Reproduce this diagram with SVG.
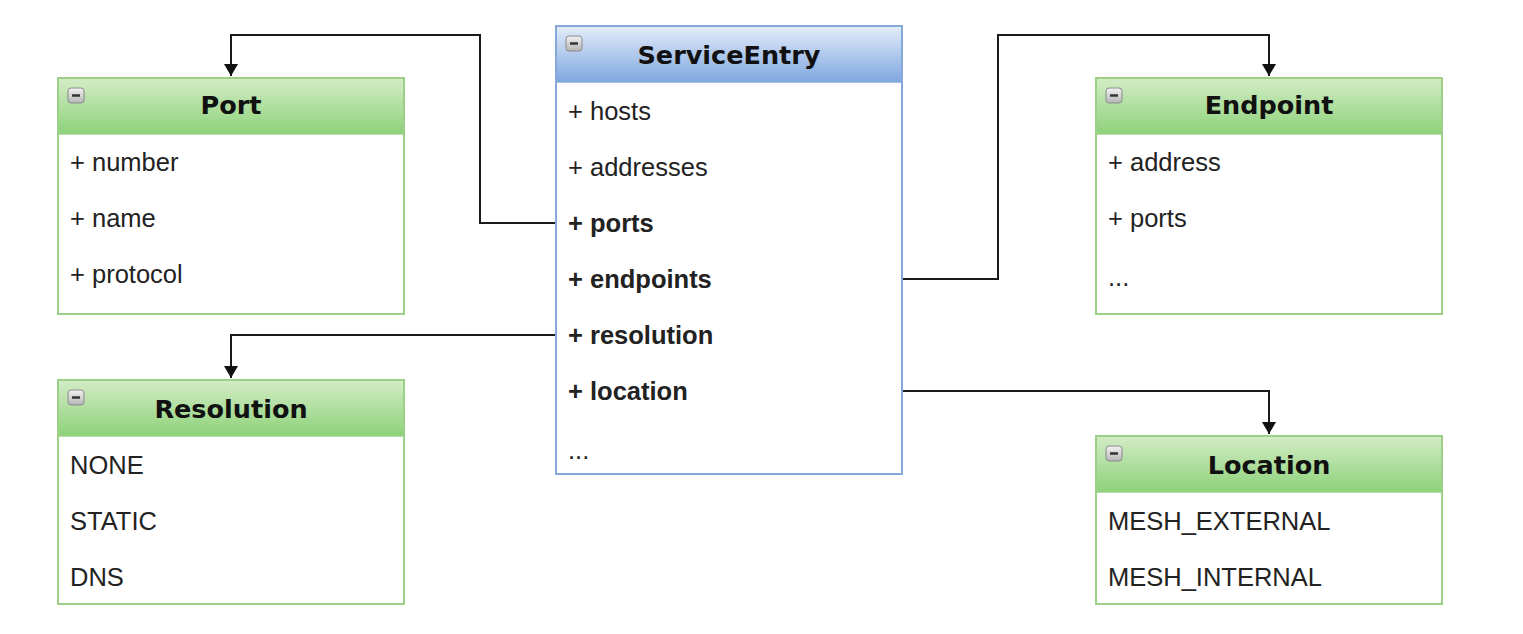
<svg xmlns="http://www.w3.org/2000/svg" width="1523" height="634" viewBox="0 0 1523 634">
<style>
.title{font-family:"DejaVu Sans",Verdana,sans-serif;font-weight:bold;font-size:25.5px;fill:#111;text-anchor:middle}
.item{font-family:"Liberation Sans",Arial,sans-serif;font-size:25.5px;fill:#222}
.b{font-weight:bold}
.body{fill:#fff}
.gbox{fill:none;stroke:#9ccf88;stroke-width:2}
.bbox{fill:none;stroke:#86a8d8;stroke-width:2}
.conn{fill:none;stroke:#1a1a1a;stroke-width:2}
.icon{fill:url(#ig);stroke:#8a8a8a;stroke-width:1}
.dash{stroke:#333;stroke-width:2.5}
</style>
<defs>
<linearGradient id="gg" x1="0" y1="0" x2="0" y2="1"><stop offset="0" stop-color="#d3ecc6"/><stop offset="1" stop-color="#8ed27a"/></linearGradient>
<linearGradient id="bg" x1="0" y1="0" x2="0" y2="1"><stop offset="0" stop-color="#e4edf9"/><stop offset="1" stop-color="#7fa7e1"/></linearGradient>
<linearGradient id="ig" x1="0" y1="0" x2="0" y2="1"><stop offset="0" stop-color="#f2f2f2"/><stop offset="1" stop-color="#b5b5b5"/></linearGradient>
<marker id="arr" viewBox="0 0 12 14" refX="12" refY="7" markerWidth="12" markerHeight="14" markerUnits="userSpaceOnUse" orient="auto"><path d="M0,0 L12,7 L0,14 z" fill="#111"/></marker>
</defs>
<rect width="1523" height="634" fill="#fff"/>
<g id="connectors">
<path class="conn" d="M556,223 H480 V35 H231 V76" marker-end="url(#arr)"/>
<path class="conn" d="M902,279 H998 V35 H1269 V76" marker-end="url(#arr)"/>
<path class="conn" d="M556,335 H231 V378" marker-end="url(#arr)"/>
<path class="conn" d="M902,391 H1269 V434" marker-end="url(#arr)"/>
</g>
<g id="ServiceEntry">
<rect x="556" y="26" width="346" height="448" class="body"/>
<rect x="556" y="26" width="346" height="56" fill="url(#bg)"/>
<rect x="556" y="26" width="346" height="448" class="bbox"/>
<line x1="556" y1="82" x2="902" y2="82" stroke="#86a8d8" stroke-width="1.5"/>
<rect x="566" y="36" width="16" height="15" rx="3" class="icon"/><line x1="570" y1="43.5" x2="578" y2="43.5" class="dash"/>
<text class="title" x="729" y="64">ServiceEntry</text>
<text class="item" x="568" y="120">+ hosts</text>
<text class="item" x="568" y="176">+ addresses</text>
<text class="item b" x="568" y="232">+ ports</text>
<text class="item b" x="568" y="288">+ endpoints</text>
<text class="item b" x="568" y="344">+ resolution</text>
<text class="item b" x="568" y="400">+ location</text>
<text class="item" x="568" y="459">...</text>
</g>
<g id="Port">
<rect x="58" y="78" width="346" height="236" class="body"/>
<rect x="58" y="78" width="346" height="56" fill="url(#gg)"/>
<rect x="58" y="78" width="346" height="236" class="gbox"/>
<line x1="58" y1="134" x2="404" y2="134" stroke="#9ccf88" stroke-width="1.5"/>
<rect x="68" y="88" width="16" height="15" rx="3" class="icon"/><line x1="72" y1="95.5" x2="80" y2="95.5" class="dash"/>
<text class="title" x="231" y="114">Port</text>
<text class="item" x="70" y="171">+ number</text>
<text class="item" x="70" y="227">+ name</text>
<text class="item" x="70" y="283">+ protocol</text>
</g>
<g id="Endpoint">
<rect x="1096" y="78" width="346" height="236" class="body"/>
<rect x="1096" y="78" width="346" height="56" fill="url(#gg)"/>
<rect x="1096" y="78" width="346" height="236" class="gbox"/>
<line x1="1096" y1="134" x2="1442" y2="134" stroke="#9ccf88" stroke-width="1.5"/>
<rect x="1106" y="88" width="16" height="15" rx="3" class="icon"/><line x1="1110" y1="95.5" x2="1118" y2="95.5" class="dash"/>
<text class="title" x="1269" y="114">Endpoint</text>
<text class="item" x="1108" y="171">+ address</text>
<text class="item" x="1108" y="227">+ ports</text>
<text class="item" x="1108" y="286">...</text>
</g>
<g id="Resolution">
<rect x="58" y="380" width="346" height="224" class="body"/>
<rect x="58" y="380" width="346" height="56" fill="url(#gg)"/>
<rect x="58" y="380" width="346" height="224" class="gbox"/>
<line x1="58" y1="436" x2="404" y2="436" stroke="#9ccf88" stroke-width="1.5"/>
<rect x="68" y="390" width="16" height="15" rx="3" class="icon"/><line x1="72" y1="397.5" x2="80" y2="397.5" class="dash"/>
<text class="title" x="231" y="418">Resolution</text>
<text class="item" x="70" y="474">NONE</text>
<text class="item" x="70" y="530">STATIC</text>
<text class="item" x="70" y="586">DNS</text>
</g>
<g id="Location">
<rect x="1096" y="436" width="346" height="168" class="body"/>
<rect x="1096" y="436" width="346" height="56" fill="url(#gg)"/>
<rect x="1096" y="436" width="346" height="168" class="gbox"/>
<line x1="1096" y1="492" x2="1442" y2="492" stroke="#9ccf88" stroke-width="1.5"/>
<rect x="1106" y="446" width="16" height="15" rx="3" class="icon"/><line x1="1110" y1="453.5" x2="1118" y2="453.5" class="dash"/>
<text class="title" x="1269" y="474">Location</text>
<text class="item" x="1108" y="530">MESH_EXTERNAL</text>
<text class="item" x="1108" y="586">MESH_INTERNAL</text>
</g>
</svg>
